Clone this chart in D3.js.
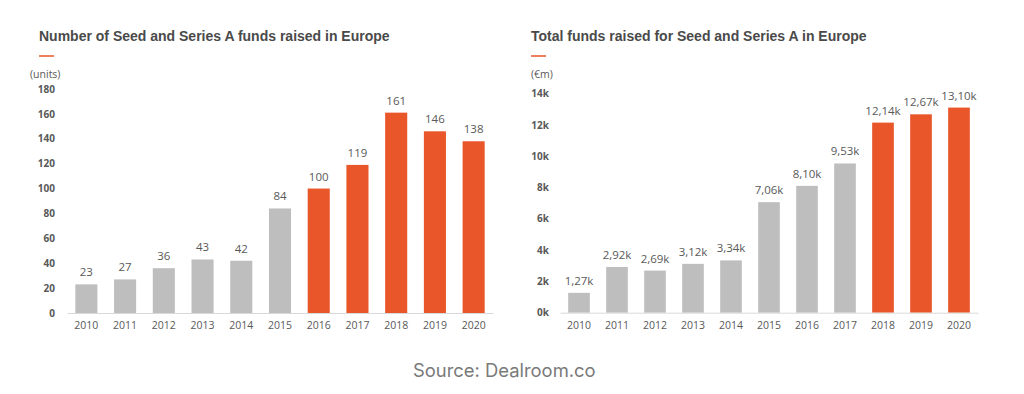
<!DOCTYPE html>
<html>
<head>
<meta charset="utf-8">
<script src="https://cdn.jsdelivr.net/npm/d3@7"></script>
<style>
  body { margin: 0; background: #fff; }
  svg { display: block; }
</style>
</head>
<body>
<svg id="chart" width="1024" height="394"></svg>
<script>
// Data
var years = ["2010","2011","2012","2013","2014","2015","2016","2017","2018","2019","2020"];
var fundsCount = [23, 27, 36, 43, 42, 84, 100, 119, 161, 146, 138];
var fundsTotal = [1.27, 2.92, 2.69, 3.12, 3.34, 7.06, 8.10, 9.53, 12.14, 12.67, 13.10];
var countTicks = [0, 20, 40, 60, 80, 100, 120, 140, 160, 180];
var totalTicks = [0, 2, 4, 6, 8, 10, 12, 14];
var orangeFrom1 = "2016";
var orangeFrom2 = "2018";

var GREY = "#bebebe", ORANGE = "#e9562a", TEXT = "#595959";

var svg = d3.select("#chart");

function drawChart(opt) {
  var g = svg.append("g");

  // x scale (bands)
  var x = d3.scaleBand()
    .domain(years)
    .range([opt.x0, opt.x1])
    .paddingInner(0.43)
    .paddingOuter(0.215);

  var y = d3.scaleLinear()
    .domain([0, opt.max])
    .range([opt.y0, opt.y1]);

  // title
  g.append("text")
    .attr("x", opt.titleX)
    .attr("y", 41)
    .attr("font-family", "Liberation Sans, Arial, sans-serif")
    .attr("font-weight", "bold")
    .attr("font-size", "14px")
    .attr("fill", "#4a4a4a")
    .text(opt.title);

  // small orange underline
  g.append("line")
    .attr("x1", opt.titleX).attr("x2", opt.titleX + 15)
    .attr("y1", 56).attr("y2", 56)
    .attr("stroke", ORANGE)
    .attr("stroke-width", 1.5);

  // unit label
  g.append("text")
    .attr("x", opt.unitX)
    .attr("y", 78)
    .attr("font-family", "Open Sans, sans-serif")
    .attr("font-size", "10.5px")
    .attr("fill", TEXT)
    .text(opt.unit);

  // y axis labels
  var yAxis = d3.axisLeft(y)
    .tickValues(opt.ticks)
    .tickSize(0)
    .tickPadding(0)
    .tickFormat(opt.tickFormat);
  var ya = g.append("g")
    .attr("transform", "translate(" + opt.tickX + ",0)")
    .call(yAxis);
  ya.select(".domain").remove();
  ya.selectAll("text")
    .attr("font-family", "Open Sans, sans-serif")
    .attr("font-weight", "bold")
    .attr("font-size", "10px")
    .attr("fill", TEXT);

  // bars
  g.selectAll("rect.bar")
    .data(opt.values)
    .enter().append("rect")
    .attr("class", "bar")
    .attr("x", function(d, i) { return x(years[i]); })
    .attr("width", x.bandwidth())
    .attr("y", function(d) { return y(d); })
    .attr("height", function(d) { return y(0) - y(d); })
    .attr("fill", function(d, i) { return +years[i] >= +opt.orangeFrom ? ORANGE : GREY; });

  // value labels
  g.selectAll("text.val")
    .data(opt.values)
    .enter().append("text")
    .attr("class", "val")
    .attr("x", function(d, i) { return x(years[i]) + x.bandwidth() / 2; })
    .attr("y", function(d) { return y(d) - 8; })
    .attr("text-anchor", "middle")
    .attr("font-family", "Open Sans, sans-serif")
    .attr("font-size", "11.5px")
    .attr("fill", TEXT)
    .text(opt.valueFormat);

  // x axis
  var xAxis = d3.axisBottom(x).tickSize(0).tickPadding(9);
  var xa = g.append("g")
    .attr("transform", "translate(0," + opt.y0 + ")")
    .call(xAxis);
  xa.select(".domain").attr("stroke", "#d9d9d9").attr("stroke-width", 1);
  xa.selectAll("text")
    .attr("font-family", "Open Sans, sans-serif")
    .attr("font-size", "10.5px")
    .attr("fill", TEXT);
}

drawChart({
  title: "Number of Seed and Series A funds raised in Europe",
  titleX: 39, unitX: 30, unit: "(units)",
  x0: 67, x1: 493, y0: 313, y1: 89, max: 180,
  tickX: 55, ticks: countTicks,
  tickFormat: function(d) { return d; },
  values: fundsCount,
  orangeFrom: orangeFrom1,
  valueFormat: function(d) { return d; }
});

drawChart({
  title: "Total funds raised for Seed and Series A in Europe",
  titleX: 531, unitX: 531, unit: "(\u20acm)",
  x0: 560, x1: 978, y0: 312.7, y1: 93.5, max: 14,
  tickX: 549, ticks: totalTicks,
  tickFormat: function(d) { return d + "k"; },
  values: fundsTotal,
  orangeFrom: orangeFrom2,
  valueFormat: function(d) { return d.toFixed(2).replace(".", ",") + "k"; }
});

// source
svg.append("text")
  .attr("x", 413)
  .attr("y", 377)
  .attr("font-family", "Inter, sans-serif")
  .attr("font-size", "18.4px")
  .attr("fill", "#7a7a7a")
  .text("Source: Dealroom.co");
</script>
</body>
</html>
